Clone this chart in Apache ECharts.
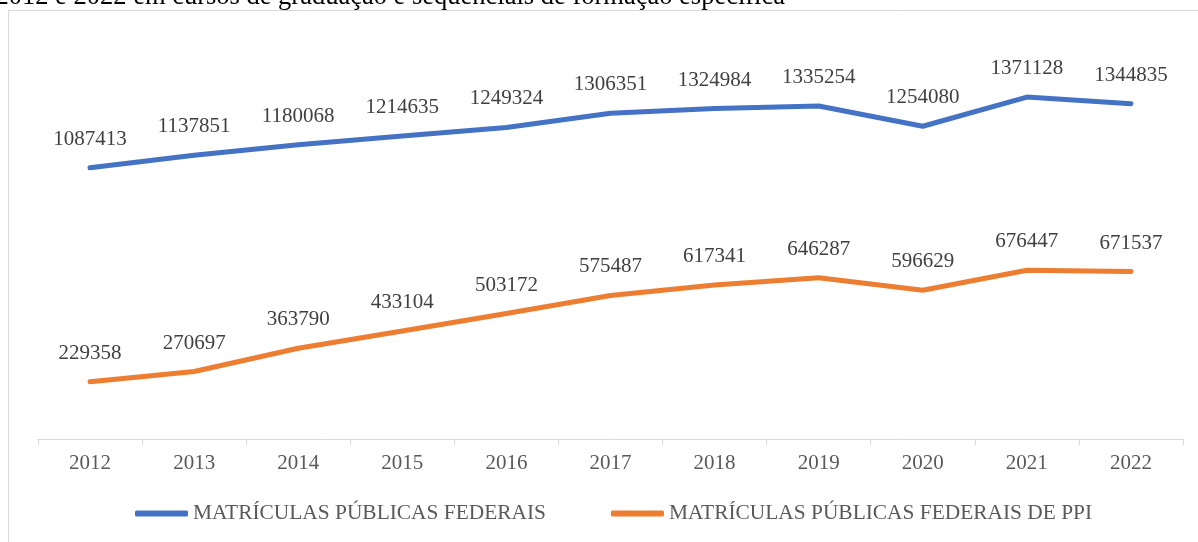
<!DOCTYPE html>
<html>
<head>
<meta charset="utf-8">
<script src="https://cdn.jsdelivr.net/npm/echarts@6/dist/echarts.min.js"></script>
<style>
html,body{margin:0;padding:0;background:#fff;}
#c{width:1198px;height:542px;}
</style>
</head>
<body>
<div id="c"></div>
<script>
var categories = ['2012','2013','2014','2015','2016','2017','2018','2019','2020','2021','2022'];
var federais = [1087413,1137851,1180068,1214635,1249324,1306351,1324984,1335254,1254080,1371128,1344835];
var federaisPPI = [229358,270697,363790,433104,503172,575487,617341,646287,596629,676447,671537];
var seriesNames = ['MATRÍCULAS PÚBLICAS FEDERAIS','MATRÍCULAS PÚBLICAS FEDERAIS DE PPI'];
var titleText = '2012 e 2022 em cursos de graduação e sequenciais de formação específica';

var serif = '"Liberation Serif","Times New Roman",serif';
var chart = echarts.init(document.getElementById('c'));
chart.setOption({
  animation: false,
  graphic: [
    {type:'rect', shape:{x:8.5,y:10.5,width:1200,height:540}, style:{fill:'none',stroke:'#d9d9d9',lineWidth:1}, z:-1},
    {type:'text', x:785, y:-16.5, style:{text:titleText, fill:'#000', font:'26.5px '+serif, textAlign:'right', textVerticalAlign:'top'}}
  ],
  legend: {
    data: seriesNames,
    left: 130, top: 498,
    icon: 'roundRect', itemWidth: 53, itemHeight: 6, itemGap: 65,
    textStyle: {fontFamily: serif, fontSize: 21.4, color:'#595959'}
  },
  grid: {left:38, right:15, top:40, bottom:103},
  xAxis: {
    type:'category', data: categories, boundaryGap: true,
    axisLine:{lineStyle:{color:'#d9d9d9', width:1}},
    axisTick:{show:true, length:6, lineStyle:{color:'#d9d9d9'}},
    axisLabel:{fontFamily: serif, fontSize:21, color:'#595959', margin:14}
  },
  yAxis: {type:'value', min:0, max:1600000, show:false, splitLine:{show:false}},
  series: [
    {name: seriesNames[0], type:'line', data: federais, symbol:'circle', symbolSize:0.01, showSymbol:true,
     lineStyle:{width:5, color:'#4472C4', cap:'round', join:'round'}, itemStyle:{color:'#4472C4'},
     label:{show:true, position:'top', distance:18, fontFamily: serif, fontSize:21, color:'#404040'}},
    {name: seriesNames[1], type:'line', data: federaisPPI, symbol:'circle', symbolSize:0.01, showSymbol:true,
     lineStyle:{width:5, color:'#ED7D31', cap:'round', join:'round'}, itemStyle:{color:'#ED7D31'},
     label:{show:true, position:'top', distance:18, fontFamily: serif, fontSize:21, color:'#404040'}}
  ]
});
</script>
</body>
</html>
